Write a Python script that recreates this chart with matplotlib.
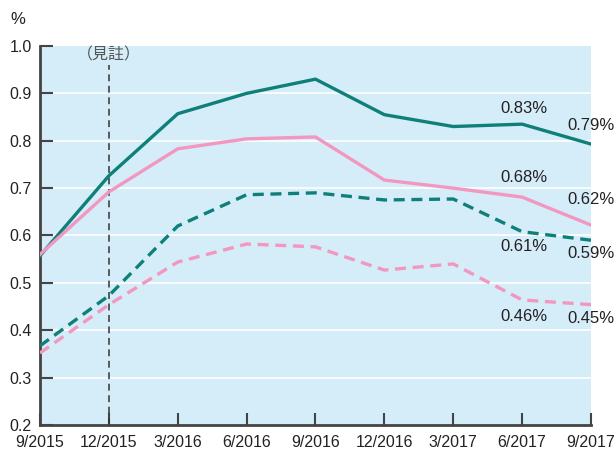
import matplotlib.pyplot as plt

plt.rcParams['font.family'] = ['Liberation Sans', 'Noto Sans CJK JP', 'DejaVu Sans']

quarters = ['9/2015', '12/2015', '3/2016', '6/2016', '9/2016', '12/2016', '3/2017', '6/2017', '9/2017']
teal_solid = [0.557, 0.726, 0.857, 0.90, 0.93, 0.855, 0.83, 0.835, 0.793]
pink_solid = [0.56, 0.692, 0.783, 0.804, 0.808, 0.717, 0.70, 0.681, 0.622]
teal_dash = [0.367, 0.473, 0.62, 0.686, 0.69, 0.675, 0.677, 0.608, 0.59]
pink_dash = [0.352, 0.454, 0.544, 0.582, 0.576, 0.527, 0.54, 0.464, 0.454]

teal = '#0e8079'
pink = '#f298c0'
x = list(range(len(quarters)))

fig = plt.figure(figsize=(6.16, 4.54), dpi=100)
ax = fig.add_axes([0.0649, 0.0639, 0.8945, 0.8348])
ax.set_facecolor('#d5ecf9')

for y in [0.3, 0.4, 0.5, 0.6, 0.7, 0.8, 0.9]:
    ax.axhline(y, color='white', lw=1.2, zorder=1)

ax.axvline(1, ymax=0.95, color='#333333', lw=1.1, ls=(0, (4.5, 3)), zorder=2)
ax.text(1, 0.981, '（見註）', ha='center', va='center', fontsize=11.5, color='#555555')

ax.plot(x, teal_solid, color=teal, lw=2.4, zorder=3)
ax.plot(x, pink_solid, color=pink, lw=2.4, zorder=3)
ax.plot(x, teal_dash, color=teal, lw=2.4, ls=(0, (3.3, 2)), zorder=3)
ax.plot(x, pink_dash, color=pink, lw=2.4, ls=(0, (3.3, 2)), zorder=3)

labels = [
    (teal_solid[7], '0.83%', 0.034),
    (pink_solid[7], '0.68%', 0.041),
    (teal_dash[7], '0.61%', -0.032),
    (pink_dash[7], '0.46%', -0.034),
]
for yi, s, off in labels:
    ax.text(7.03, yi + off, s, ha='center', va='center', fontsize=12, color='#222222')
right = [
    (teal_solid[8], '0.79%', 0.04),
    (pink_solid[8], '0.62%', 0.053),
    (teal_dash[8], '0.59%', -0.027),
    (pink_dash[8], '0.45%', -0.03),
]
for yi, s, off in right:
    ax.text(7.65, yi + off, s, ha='left', va='center', fontsize=12, color='#222222', clip_on=False)

ax.set_xlim(0, 8)
ax.set_ylim(0.2, 1.0)
ax.set_xticks(x)
ax.set_xticklabels(quarters)
ax.set_yticks([0.2, 0.3, 0.4, 0.5, 0.6, 0.7, 0.8, 0.9, 1.0])
ax.set_yticklabels(['0.2', '0.3', '0.4', '0.5', '0.6', '0.7', '0.8', '0.9', '1.0'])
ax.tick_params(direction='in', length=9, width=1.5, color='#444444', labelsize=11.5,
               labelcolor='#222222')
ax.tick_params(axis='x', pad=7)
ax.tick_params(axis='y', pad=6)
for s in ['top', 'right']:
    ax.spines[s].set_visible(False)
for s in ['left', 'bottom']:
    ax.spines[s].set_color('#444444')
    ax.spines[s].set_linewidth(2)

fig.text(18 / 616, 1 - 20 / 454, '%', ha='center', va='center', fontsize=12, color='#222222')

fig.savefig('out.png', dpi=100)
